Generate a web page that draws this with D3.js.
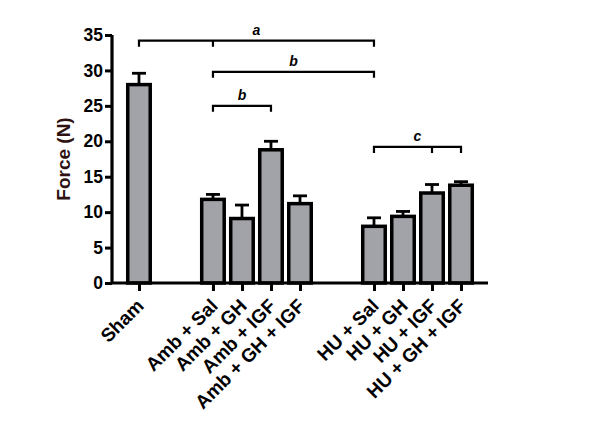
<!DOCTYPE html>
<html>
<head>
<meta charset="utf-8">
<script src="https://cdn.jsdelivr.net/npm/d3@7"></script>
<style>
  html, body { margin: 0; padding: 0; background: #fff; }
  svg { display: block; }
  text { font-family: "Liberation Sans", Arial, sans-serif; font-weight: bold; }
</style>
</head>
<body>
<svg id="chart" width="600" height="424"></svg>
<script>
// ---- data ----
const groups = [
  ["Sham"],
  ["Amb + Sal", "Amb + GH", "Amb + IGF", "Amb + GH + IGF"],
  ["HU + Sal", "HU + GH", "HU + IGF", "HU + GH + IGF"]
];
const categories = groups.flat();
const values = [28.0, 11.8, 9.1, 18.8, 11.2, 8.0, 9.4, 12.7, 13.8];
const errors = [1.6, 0.7, 1.9, 1.2, 1.1, 1.2, 0.7, 1.2, 0.5];
const yTicks = [0, 5, 10, 15, 20, 25, 30, 35];
const yLabel = "Force (N)";
// significance brackets: from category, to category, middle tick category, level (value units), label
const brackets = [
  { from: "Sham", to: "HU + Sal", mid: "Amb + Sal", level: 34.2, label: "a" },
  { from: "Amb + Sal", to: "HU + Sal", mid: null, level: 29.8, label: "b" },
  { from: "Amb + Sal", to: "Amb + IGF", mid: null, level: 25.0, label: "b" },
  { from: "HU + Sal", to: "HU + GH + IGF", mid: "HU + IGF", level: 19.2, label: "c" }
];

// ---- layout ----
const svg = d3.select("#chart");
const groupGap = 1.55;
const slot = {};
let idx = 0;
groups.forEach((g, gi) => {
  g.forEach(c => { slot[c] = idx + gi * groupGap; idx++; });
});
const x = d3.scaleLinear().domain([-0.93, 12.03]).range([112, 488]);
const y = d3.scaleLinear().domain([0, 35]).range([283, 35]);
const barW = 22.5;

// bars
svg.append("g").selectAll("rect")
  .data(categories)
  .join("rect")
  .attr("x", d => x(slot[d]) - barW / 2)
  .attr("y", (d, i) => y(values[i]))
  .attr("width", barW)
  .attr("height", (d, i) => y(0) - y(values[i]))
  .attr("fill", "#a2a2a9")
  .attr("stroke", "#000")
  .attr("stroke-width", 3.5);

// error bars
const eg = svg.append("g").attr("stroke", "#000").attr("stroke-width", 2.8);
categories.forEach((c, i) => {
  const cx = x(slot[c]);
  eg.append("line").attr("x1", cx).attr("x2", cx)
    .attr("y1", y(values[i])).attr("y2", y(values[i] + errors[i]));
  eg.append("line").attr("x1", cx - 7).attr("x2", cx + 7)
    .attr("y1", y(values[i] + errors[i])).attr("y2", y(values[i] + errors[i]));
});

// axes
const yAxis = d3.axisLeft(y).tickValues(yTicks).tickSize(7).tickPadding(2);
const yg = svg.append("g").attr("transform", "translate(112,0)").call(yAxis);
yg.select(".domain").attr("stroke-width", 3.2).attr("d", `M0,${y(35)}V${y(0)}`);
yg.selectAll(".tick line").attr("stroke-width", 3);
yg.selectAll(".tick text").attr("font-size", 17.5).attr("fill", "#000")
  .attr("font-family", "Liberation Sans, Arial, sans-serif").attr("font-weight", "bold");

const xAxis = d3.axisBottom(x).tickValues(categories.map(c => slot[c])).tickSize(8).tickFormat("");
const xg = svg.append("g").attr("transform", `translate(0,${y(0)})`).call(xAxis);
xg.select(".domain").attr("stroke-width", 3.2).attr("d", `M112,0H488`);
xg.selectAll(".tick line").attr("stroke-width", 3);

// x labels rotated
svg.append("g").selectAll("text")
  .data(categories)
  .join("text")
  .attr("transform", d => `translate(${x(slot[d]) + 6},${y(0) + 24}) rotate(-45)`)
  .attr("text-anchor", "end")
  .attr("font-size", 19)
  .attr("fill", "#000")
  .text(d => d);

// y label
svg.append("text")
  .attr("transform", `translate(70,${(y(0) + y(35)) / 2}) rotate(-90)`)
  .attr("text-anchor", "middle")
  .attr("font-size", 19)
  .attr("fill", "#2e1212")
  .text(yLabel);

// brackets
const bg = svg.append("g");
brackets.forEach(b => {
  const x1 = x(slot[b.from]), x2 = x(slot[b.to]), yy = y(b.level);
  const tick = 6;
  let d = `M${x1},${yy + tick}V${yy}H${x2}V${yy + tick}`;
  if (b.mid) { const xm = x(slot[b.mid]); d += `M${xm},${yy}V${yy + tick}`; }
  bg.append("path").attr("d", d).attr("fill", "none").attr("stroke", "#000").attr("stroke-width", 2.2);
  bg.append("text")
    .attr("x", (x1 + x2) / 2).attr("y", yy - 6)
    .attr("text-anchor", "middle")
    .attr("font-size", 14)
    .attr("font-style", "italic")
    .attr("fill", "#000")
    .text(b.label);
});
</script>
</body>
</html>
